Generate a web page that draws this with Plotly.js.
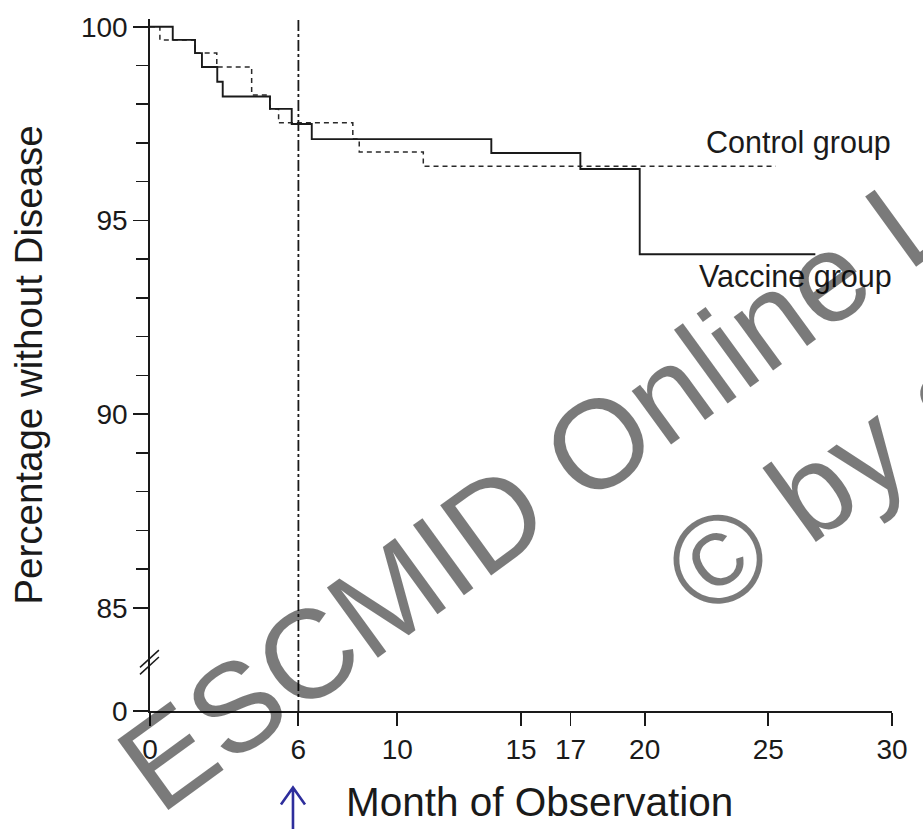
<!DOCTYPE html>
<html>
<head>
<meta charset="utf-8">
<script src="https://cdn.plot.ly/plotly-3.0.1.min.js"></script>
<style>html,body{margin:0;padding:0;background:#fff;}#chart{width:923px;height:829px;}</style>
</head>
<body>
<div id="chart"></div>
<script>
// ---- data ----
var vaccineMonths = [0, 0.92, 1.82, 2.1, 2.72, 2.94, 4.85, 5.73, 6.54, 13.8, 17.4, 19.8, 26.9];
var vaccineValues = [100, 99.66, 99.32, 98.96, 98.58, 98.2, 97.88, 97.49, 97.1, 96.74, 96.33, 94.13, 94.13];
var controlMonths = [0, 0.4, 1.82, 2.7, 4.11, 4.85, 5.2, 8.2, 8.46, 11.05, 25.3];
var controlValues = [100, 99.66, 99.32, 98.96, 98.24, 97.88, 97.52, 97.1, 96.77, 96.4, 96.4];
var xTickVals = [0, 6, 10, 15, 17, 20, 25, 30];
var xTickText = ["0", "6", "10", "15", "17", "20", "25", "30"];
var yBreakZero = 82.34;             // axis position where the broken axis shows 0
var yTickVals = [yBreakZero, 85, 90, 95, 100];
var yTickText = ["0", "85", "90", "95", "100"];
var yMinorVals = [86, 87, 88, 89, 91, 92, 93, 94, 96, 97, 98, 99];
var vaccinationMonth = 6;
var groupLabels = ["Control group", "Vaccine group"];
var xTitle = "Month of Observation";
var yTitle = "Percentage without Disease";

var FONT = "Liberation Sans, Arial, Helvetica, sans-serif";
var INK = "#1a1a1a";

var traces = [
  {x: controlMonths, y: controlValues, type: "scatter", mode: "lines", name: groupLabels[0],
   line: {shape: "hv", color: "#2a2a2a", width: 1.5, dash: "5px,4px"}, hoverinfo: "skip"},
  {x: vaccineMonths, y: vaccineValues, type: "scatter", mode: "lines", name: groupLabels[1],
   line: {shape: "hv", color: INK, width: 1.9}, hoverinfo: "skip"}
];

var layout = {
  width: 923, height: 829,
  margin: {l: 150, r: 31, t: 19, b: 118},
  paper_bgcolor: "#fff", plot_bgcolor: "#fff",
  showlegend: false,
  font: {family: FONT, color: INK},
  xaxis: {
    range: [0, 30], tickvals: xTickVals, ticktext: xTickText,
    showgrid: false, zeroline: false, showline: true, linecolor: INK, linewidth: 1.8,
    ticks: "outside", ticklen: 13, tickwidth: 1.8, tickcolor: INK,
    tickfont: {size: 28, family: FONT, color: INK},
    automargin: false
  },
  yaxis: {
    range: [yBreakZero, 100.2], tickvals: yTickVals, ticktext: yTickText,
    showgrid: false, zeroline: false, showline: true, linecolor: INK, linewidth: 1.8,
    ticks: "outside", ticklen: 15, tickwidth: 1.8, tickcolor: INK,
    tickfont: {size: 28, family: FONT, color: INK},
    minor: {tickvals: yMinorVals, ticks: "outside", ticklen: 12, tickwidth: 1.5, tickcolor: INK},
    title: {text: yTitle, font: {size: 38.5, family: FONT, color: INK}, standoff: 26},
    automargin: false
  },
  shapes: [
    // vaccination time marker
    {type: "line", xref: "x", yref: "y", x0: vaccinationMonth, x1: vaccinationMonth, y0: yBreakZero, y1: 100.2,
     line: {color: INK, width: 1.8, dash: "11px,3px,3px,3px"}},
    // axis break marks
    {type: "line", xref: "paper", yref: "paper", x0: -0.0135, x1: 0.012, y0: 0.053, y1: 0.078,
     line: {color: INK, width: 1.5}},
    {type: "line", xref: "paper", yref: "paper", x0: -0.0135, x1: 0.012, y0: 0.063, y1: 0.088,
     line: {color: INK, width: 1.5}},
    // blue arrow under month 6
    {type: "path", xref: "paper", yref: "paper",
     path: "M 0.1927 -0.175 L 0.1927 -0.1105 M 0.1765 -0.135 L 0.1927 -0.1105 L 0.2089 -0.135",
     line: {color: "#2e2e9c", width: 2.6}}
  ],
  annotations: [
    // x-axis title (placed as in the reference, slightly right of centre)
    {xref: "paper", yref: "paper", x: 0.5245, y: -0.131, text: xTitle, showarrow: false,
     xanchor: "center", yanchor: "middle", font: {size: 40.5, family: FONT, color: INK}},
    {xref: "x", yref: "y", x: 26.2, y: 97.0, text: groupLabels[0], showarrow: false,
     xanchor: "center", yanchor: "middle", font: {size: 30.5, family: FONT, color: INK}},
    {xref: "x", yref: "y", x: 26.1, y: 93.55, text: groupLabels[1], showarrow: false,
     xanchor: "center", yanchor: "middle", font: {size: 30.5, family: FONT, color: INK}},
    // watermark
    {xref: "paper", yref: "paper", x: 1.006, y: 0.553, text: "ESCMID Online Lecture Library<br>© by author",
     showarrow: false, xanchor: "center", yanchor: "middle", textangle: -36,
     font: {size: 126, family: FONT, color: "rgba(0,0,0,0.52)"}}
  ]
};

Plotly.newPlot("chart", traces, layout, {staticPlot: true, displayModeBar: false});
</script>
</body>
</html>
